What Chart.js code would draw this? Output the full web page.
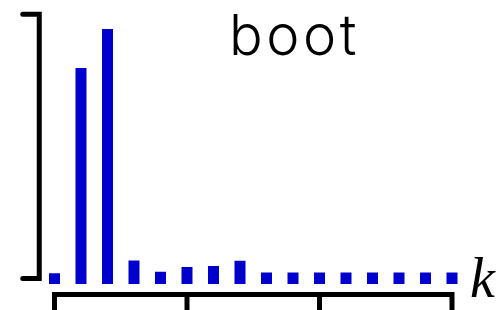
<!DOCTYPE html>
<html>
<head>
<meta charset="utf-8">
<script src="https://cdn.jsdelivr.net/npm/chart.js@4"></script>
<style>
  html, body { margin: 0; padding: 0; background: #fff; }
  #wrap { width: 502px; height: 310px; }
</style>
</head>
<body>
<div id="wrap"><canvas id="chart" width="502" height="310"></canvas></div>
<script>
const categories = ['0', '1', '2', '3', '4', '5', '6', '7', '8', '9', '10', '11', '12', '13', '14', '15'];
const counts = [4.0, 80.3, 94.8, 8.7, 4.6, 6.3, 6.7, 8.6, 4.3, 4.3, 4.3, 4.3, 4.3, 4.3, 4.3, 4.3];
const xTicks = [0, 5, 10, 15];
const yMax = 100;
const bracketLow = 2.0;

const axesPlugin = {
    id: 'bracketAxes',
    afterDraw(chart) {
        const ctx = chart.ctx;
        const x = chart.scales.x;
        const y = chart.scales.y;
        const area = chart.chartArea;
        ctx.save();
        ctx.strokeStyle = '#000';
        ctx.lineWidth = 5;
        ctx.lineJoin = 'miter';
        ctx.lineCap = 'round';

        // left bracket
        const bx = area.left - 2;
        ctx.beginPath();
        ctx.moveTo(bx - 16.5, y.getPixelForValue(yMax) - 0.7);
        ctx.lineTo(bx, y.getPixelForValue(yMax) - 0.7);
        ctx.lineTo(bx, y.getPixelForValue(bracketLow));
        ctx.lineTo(bx - 16.5, y.getPixelForValue(bracketLow));
        ctx.stroke();

        // bottom axis
        const ay = area.bottom + 10.5;
        const x0 = x.getPixelForValue(xTicks[0]);
        const x1 = x.getPixelForValue(xTicks[xTicks.length - 1]);
        ctx.lineCap = 'butt';
        ctx.beginPath();
        ctx.moveTo(x0, chart.height + 3);
        ctx.lineTo(x0, ay);
        ctx.lineTo(x1, ay);
        ctx.lineTo(x1, chart.height + 3);
        ctx.stroke();
        xTicks.slice(1, -1).forEach(t => {
            const px = x.getPixelForValue(t);
            ctx.beginPath();
            ctx.moveTo(px, ay);
            ctx.lineTo(px, chart.height + 3);
            ctx.stroke();
        });

        // axis label
        ctx.fillStyle = '#000';
        ctx.font = 'italic 56px "Liberation Serif"';
        ctx.textBaseline = 'alphabetic';
        ctx.textAlign = 'left';
        ctx.fillText('k', 470, 297);

        // title
        ctx.font = '300 56px Inter';
        ctx.letterSpacing = '3.5px';
        ctx.textAlign = 'center';
        ctx.fillText('boot', 294.5, 55);
        ctx.restore();
    }
};

new Chart(document.getElementById('chart'), {
    type: 'bar',
    data: {
        labels: categories,
        datasets: [{
            data: counts,
            backgroundColor: '#0000cc',
            borderWidth: 0,
            categoryPercentage: 1,
            barPercentage: 0.415
        }]
    },
    options: {
        responsive: false,
        animation: false,
        layout: {
            padding: { left: 41.25, right: 36.75, top: 15, bottom: 26 }
        },
        scales: {
            x: { display: false, offset: true },
            y: { display: false, min: 0, max: yMax }
        },
        plugins: {
            legend: { display: false },
            tooltip: { enabled: false }
        }
    },
    plugins: [axesPlugin]
});
</script>
</body>
</html>
